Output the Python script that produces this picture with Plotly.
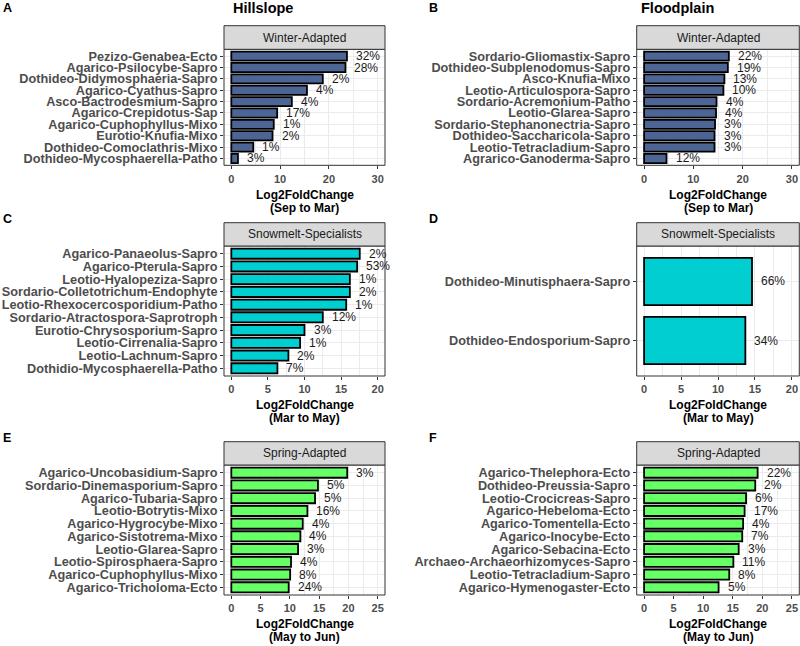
import plotly.graph_objects as go

# ---------------- data ----------------
a_labels = ["Pezizo-Genabea-Ecto", "Agarico-Psilocybe-Sapro", "Dothideo-Didymosphaeria-Sapro",
            "Agarico-Cyathus-Sapro", "Asco-Bactrodesmium-Sapro", "Agarico-Crepidotus-Sap",
            "Agarico-Cuphophyllus-Mixo", "Eurotio-Knufia-Mixo", "Dothideo-Comoclathris-Mixo",
            "Dothideo-Mycosphaerella-Patho"]
a_values = [23.7, 23.4, 18.75, 15.5, 12.4, 9.4, 8.7, 8.45, 4.5, 1.36]
a_pcts = ["32%", "28%", "2%", "4%", "4%", "17%", "1%", "2%", "1%", "3%"]

b_labels = ["Sordario-Gliomastix-Sapro", "Dothideo-Subplenodomus-Sapro", "Asco-Knufia-Mixo",
            "Leotio-Articulospora-Sapro", "Sordario-Acremonium-Patho", "Leotio-Glarea-Sapro",
            "Sordario-Stephanonectria-Sapro", "Dothideo-Saccharicola-Sapro",
            "Leotio-Tetracladium-Sapro", "Agrarico-Ganoderma-Sapro"]
b_values = [17.2, 17.0, 16.3, 16.1, 14.7, 14.6, 14.4, 14.3, 14.3, 4.55]
b_pcts = ["22%", "19%", "13%", "10%", "4%", "4%", "3%", "3%", "3%", "12%"]

c_labels = ["Agarico-Panaeolus-Sapro", "Agarico-Pterula-Sapro", "Leotio-Hyalopeziza-Sapro",
            "Sordario-Colletotrichum-Endophyte", "Leotio-Rhexocercosporidium-Patho",
            "Sordario-Atractospora-Saprotroph", "Eurotio-Chrysosporium-Sapro",
            "Leotio-Cirrenalia-Sapro", "Leotio-Lachnum-Sapro", "Dothidio-Mycosphaerella-Patho"]
c_values = [17.55, 17.2, 16.2, 16.2, 15.7, 12.5, 10.0, 9.4, 7.8, 6.3]
c_pcts = ["2%", "53%", "1%", "2%", "1%", "12%", "3%", "1%", "2%", "7%"]

d_labels = ["Dothideo-Minutisphaera-Sapro", "Dothideo-Endosporium-Sapro"]
d_values = [14.6, 13.7]
d_pcts = ["66%", "34%"]

e_labels = ["Agarico-Uncobasidium-Sapro", "Sordario-Dinemasporium-Sapro", "Agarico-Tubaria-Sapro",
            "Leotio-Botrytis-Mixo", "Agarico-Hygrocybe-Mixo", "Agarico-Sistotrema-Mixo",
            "Leotio-Glarea-Sapro", "Leotio-Spirosphaera-Sapro", "Agarico-Cuphophyllus-Mixo",
            "Agarico-Tricholoma-Ecto"]
e_values = [19.8, 14.8, 14.3, 13.0, 12.2, 11.8, 11.4, 10.2, 10.05, 9.8]
e_pcts = ["3%", "5%", "5%", "16%", "4%", "4%", "3%", "4%", "8%", "24%"]

f_labels = ["Agarico-Thelephora-Ecto", "Dothideo-Preussia-Sapro", "Leotio-Crocicreas-Sapro",
            "Agarico-Hebeloma-Ecto", "Agarico-Tomentella-Ecto", "Agarico-Inocybe-Ecto",
            "Agarico-Sebacina-Ecto", "Archaeo-Archaeorhizomyces-Sapro",
            "Leotio-Tetracladium-Sapro", "Agarico-Hymenogaster-Ecto"]
f_values = [19.2, 18.8, 17.25, 17.0, 16.75, 16.6, 16.0, 15.1, 14.4, 12.6]
f_pcts = ["22%", "2%", "6%", "17%", "4%", "7%", "3%", "11%", "8%", "5%"]

strip_names = ["Winter-Adapted", "Winter-Adapted", "Snowmelt-Specialists",
               "Snowmelt-Specialists", "Spring-Adapted", "Spring-Adapted"]
periods = ["(Sep to Mar)", "(Sep to Mar)", "(Mar to May)", "(Mar to May)",
           "(May to Jun)", "(May to Jun)"]
x_limits = [30, 30, 20, 20, 25, 25]
x_dticks = [10, 10, 5, 5, 5, 5]
panel_letters = ["A", "B", "C", "D", "E", "F"]
column_titles = ["Hillslope", "Floodplain"]

BLUE = "#4D6595"
CYAN = "#00CED1"
GREEN = "#66FF66"
fills = [BLUE, BLUE, CYAN, CYAN, GREEN, GREEN]

all_labels = [a_labels, b_labels, c_labels, d_labels, e_labels, f_labels]
all_values = [a_values, b_values, c_values, d_values, e_values, f_values]
all_pcts = [a_pcts, b_pcts, c_pcts, d_pcts, e_pcts, f_pcts]

# ---------------- layout geometry (pixels) ----------------
W, H = 800, 646
col_x = [(224, 385), (636.7, 799.3)]
rows = [
    dict(strip=(25.7, 49.3), plot=(49.3, 165.3), t1=195, t2=208, letter=8),
    dict(strip=(222.7, 246), plot=(246, 376), t1=404.5, t2=417.5, letter=219),
    dict(strip=(441.7, 465), plot=(465, 595), t1=624, t2=637, letter=438),
]

def fx(p):
    return p / W

def fy(p):
    return 1 - p / H

FONT = "Liberation Sans, Arial, Helvetica, sans-serif"
GRID = "#EBEBEB"
DARK = "#333333"
TXTGRAY = "#4D4D4D"

fig = go.Figure()
layout = dict(
    width=W, height=H, margin=dict(l=0, r=0, t=0, b=0),
    paper_bgcolor="white", plot_bgcolor="white", showlegend=False,
    font=dict(family=FONT, color="#1A1A1A"),
)
shapes = []
annotations = []

for i in range(6):
    r, c = divmod(i, 2)
    row = rows[r]
    x0, x1 = col_x[c]
    ptop, pbot = row["plot"]
    labels = all_labels[i]
    values = all_values[i]
    pcts = all_pcts[i]
    n = len(labels)
    xa = "x" if i == 0 else f"x{i+1}"
    ya = "y" if i == 0 else f"y{i+1}"
    xkey = "xaxis" if i == 0 else f"xaxis{i+1}"
    ykey = "yaxis" if i == 0 else f"yaxis{i+1}"
    L = x_limits[i]

    fig.add_trace(go.Bar(
        x=values, y=labels, orientation="h", xaxis=xa, yaxis=ya,
        width=0.8,
        marker=dict(color=fills[i], line=dict(color="black", width=1.8)),
        hoverinfo="x+y",
    ))

    layout[xkey] = dict(
        domain=[fx(x0), fx(x1)], anchor=ya, range=[-0.05 * L, 1.05 * L],
        tickmode="linear", tick0=0, dtick=x_dticks[i],
        ticks="outside", ticklen=3, tickwidth=1, tickcolor=DARK,
        tickfont=dict(family=FONT, size=11, color=TXTGRAY, weight="bold"),
        showgrid=True, gridcolor=GRID, gridwidth=1,
        minor=dict(dtick=x_dticks[i] / 2, tick0=0, showgrid=True, gridcolor=GRID, gridwidth=0.5),
        zeroline=False, showline=False, fixedrange=True,
    )
    layout[ykey] = dict(
        domain=[fy(pbot), fy(ptop)], anchor=xa, type="category",
        categoryorder="array", categoryarray=labels,
        tickmode="array", tickvals=labels, ticktext=labels,
        range=[n - 1 + 0.6, -0.6],
        ticks="outside", ticklen=3, tickwidth=1, tickcolor=DARK,
        tickfont=dict(family=FONT, size=12.7, color=TXTGRAY, weight="bold"),
        showgrid=True, gridcolor=GRID, gridwidth=1,
        zeroline=False, showline=False, fixedrange=True,
    )

    # panel border
    shapes.append(dict(type="rect", xref="paper", yref="paper",
                       x0=fx(x0), x1=fx(x1), y0=fy(pbot), y1=fy(ptop),
                       line=dict(color=DARK, width=1), fillcolor="rgba(0,0,0,0)", layer="above"))
    # strip
    s0, s1 = row["strip"]
    shapes.append(dict(type="rect", xref="paper", yref="paper",
                       x0=fx(x0), x1=fx(x1), y0=fy(s1), y1=fy(s0),
                       line=dict(color=DARK, width=1), fillcolor="#D9D9D9", layer="above"))
    annotations.append(dict(xref="paper", yref="paper", x=fx((x0 + x1) / 2), y=fy((s0 + s1) / 2),
                            text=strip_names[i], showarrow=False, xanchor="center", yanchor="middle",
                            font=dict(family=FONT, size=12, color="#1A1A1A")))
    # percentage labels
    for lab, v, p in zip(labels, values, pcts):
        annotations.append(dict(xref=xa, yref=ya, x=v, y=lab, text=p, showarrow=False,
                                xanchor="left", yanchor="middle", xshift=7,
                                font=dict(family=FONT, size=12, color="#1A1A1A")))
    # axis titles
    cx = fx((x0 + x1) / 2)
    annotations.append(dict(xref="paper", yref="paper", x=cx, y=fy(row["t1"]),
                            text="Log2FoldChange", showarrow=False, xanchor="center", yanchor="middle",
                            font=dict(family=FONT, size=12, color="black", weight="bold")))
    annotations.append(dict(xref="paper", yref="paper", x=cx, y=fy(row["t2"]),
                            text=periods[i], showarrow=False, xanchor="center", yanchor="middle",
                            font=dict(family=FONT, size=12, color="black", weight="bold")))
    # panel letter
    lx = 1 if c == 0 else 427
    annotations.append(dict(xref="paper", yref="paper", x=fx(lx), y=fy(row["letter"]),
                            text=panel_letters[i], showarrow=False, xanchor="left", yanchor="middle",
                            font=dict(family=FONT, size=12.5, color="black", weight="bold")))

# column titles
for c, (tx, title) in enumerate(zip([263, 677], column_titles)):
    annotations.append(dict(xref="paper", yref="paper", x=fx(tx), y=fy(8), text=title,
                            showarrow=False, xanchor="center", yanchor="middle",
                            font=dict(family=FONT, size=14.5, color="black", weight="bold")))

layout["shapes"] = shapes
layout["annotations"] = annotations
fig.update_layout(**layout)
fig.write_html("out.html", config={"displayModeBar": False},
               post_script="document.body.style.margin='0';document.body.style.padding='0';")
